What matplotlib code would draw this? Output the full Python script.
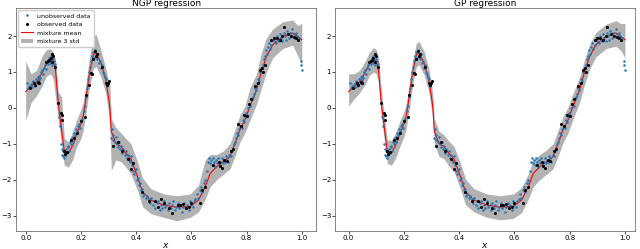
import matplotlib
matplotlib.use("Agg")
import matplotlib.pyplot as plt

# mixture mean (shared by both models)
mean_x = [0.0, 0.02, 0.04, 0.06, 0.075, 0.09, 0.10, 0.108, 0.118, 0.13, 0.14, 0.155, 0.17, 0.184,
          0.20, 0.208, 0.22, 0.231, 0.245, 0.255, 0.273, 0.29, 0.30, 0.305, 0.31, 0.327, 0.345,
          0.363, 0.381, 0.405, 0.423, 0.453, 0.50, 0.548, 0.596, 0.626, 0.65, 0.668, 0.692, 0.716,
          0.74, 0.758, 0.776, 0.794, 0.812, 0.836, 0.854, 0.872, 0.895, 0.931, 0.967, 0.985, 1.0]
mean_y = [0.45, 0.60, 0.73, 0.98, 1.22, 1.34, 1.29, 1.06, 0.14, -0.60, -1.22, -1.26, -1.05, -0.75,
          -0.45, -0.24, 0.35, 0.97, 1.48, 1.53, 1.25, 0.78, 0.30, 0.0, -0.65, -0.99, -1.08,
          -1.27, -1.42, -1.92, -2.34, -2.57, -2.71, -2.77, -2.74, -2.57, -2.20, -1.83, -1.64, -1.50,
          -1.36, -0.99, -0.61, -0.34, 0.04, 0.50, 1.01, 1.43, 1.76, 1.99, 2.09, 1.99, 1.90]

# NGP 3 std band
ngp_upper = [1.30, 0.95, 1.05, 1.45, 1.62, 1.65, 1.55, 1.35, 0.45, 0.30, -0.85, -0.95, -0.65, -0.35,
             -0.05, 0.15, 0.75, 1.40, 2.00, 2.05, 1.60, 1.10, 0.75, 0.65, -0.30, -0.55, -0.70,
             -0.85, -1.00, -1.50, -1.95, -2.25, -2.40, -2.45, -2.40, -2.15, -1.45, -1.30, -1.30, -1.20,
             -1.00, -0.60, -0.20, 0.05, 0.55, 0.95, 1.55, 1.95, 2.20, 2.40, 2.45, 2.30, 2.35]
ngp_lower = [-0.35, 0.15, 0.35, 0.62, 0.88, 0.95, 0.80, 0.30, -0.35, -1.00, -1.60, -1.65, -1.45, -1.10,
             -0.85, -0.65, -0.05, 0.55, 1.10, 1.15, 0.85, 0.40, -0.15, -0.50, -1.75, -1.45, -1.50,
             -1.65, -1.85, -2.30, -2.75, -2.95, -3.05, -3.15, -3.05, -2.90, -2.55, -2.20, -2.00, -1.85,
             -1.70, -1.35, -0.95, -0.70, -0.35, 0.10, 0.55, 1.00, 1.40, 1.65, 1.75, 1.45, 1.20]

# GP 3 std band
gp_upper = [0.95, 0.95, 1.05, 1.30, 1.55, 1.68, 1.62, 1.40, 0.50, -0.25, -0.90, -0.90, -0.70, -0.40,
            -0.10, 0.10, 0.70, 1.30, 1.80, 1.85, 1.58, 1.10, 0.65, 0.35, -0.30, -0.65, -0.75,
            -0.93, -1.07, -1.55, -1.98, -2.25, -2.40, -2.45, -2.40, -2.22, -1.85, -1.45, -1.30, -1.17,
            -1.00, -0.63, -0.25, 0.02, 0.40, 0.85, 1.35, 1.77, 2.10, 2.33, 2.43, 2.35, 2.35]
gp_lower = [0.05, 0.25, 0.42, 0.65, 0.90, 1.00, 0.95, 0.72, -0.20, -0.95, -1.55, -1.60, -1.40, -1.10,
            -0.80, -0.60, 0.00, 0.62, 1.15, 1.20, 0.92, 0.45, -0.05, -0.35, -1.00, -1.35, -1.42,
            -1.62, -1.77, -2.27, -2.70, -2.90, -3.05, -3.12, -3.08, -2.92, -2.55, -2.20, -2.00, -1.85,
            -1.70, -1.35, -0.97, -0.70, -0.32, 0.15, 0.65, 1.08, 1.42, 1.65, 1.72, 1.60, 1.40]

# observed data
obs_x = [0.015, 0.03, 0.035, 0.045, 0.05, 0.075, 0.08, 0.085, 0.09, 0.095, 0.1, 0.097, 0.105,
         0.118, 0.127, 0.13, 0.133, 0.138, 0.142, 0.15, 0.165, 0.175, 0.185, 0.2,
         0.215, 0.22, 0.23, 0.235, 0.24, 0.245, 0.25, 0.255, 0.26, 0.275, 0.29, 0.295, 0.3, 0.298,
         0.315, 0.335, 0.35, 0.37, 0.38, 0.39, 0.42, 0.445, 0.47, 0.48, 0.49, 0.5, 0.52, 0.53,
         0.55, 0.56, 0.57, 0.58, 0.59, 0.6, 0.63, 0.64, 0.65, 0.68, 0.7, 0.705, 0.71, 0.72, 0.73,
         0.745, 0.75, 0.77, 0.78, 0.79, 0.8, 0.81, 0.815, 0.83, 0.84, 0.85, 0.855, 0.86, 0.865,
         0.89, 0.9, 0.91, 0.92, 0.93, 0.935, 0.95, 0.96, 0.97, 0.98, 0.985]
obs_y = [0.55, 0.70, 0.65, 0.72, 0.68, 1.28, 1.30, 1.32, 1.38, 1.28, 1.45, 1.50, 1.15,
         0.13, -0.15, -0.20, -0.35, -1.20, -1.28, -1.22, -0.90, -0.85, -0.70, -0.38,
         -0.25, 0.35, 0.65, 0.98, 0.95, 1.35, 1.58, 1.45, 1.50, 1.15, 0.70, 0.65, 0.75, 0.68,
         -1.07, -0.95, -1.20, -1.42, -1.70, -1.55, -2.35, -2.60, -2.60, -2.75, -2.55, -2.65, -2.78, -2.92,
         -2.72, -2.70, -2.68, -2.80, -2.75, -2.65, -2.65, -2.30, -2.20, -1.60, -1.50, -1.62, -1.68, -1.45, -1.47,
         -1.20, -1.15, -0.45, -0.50, -0.20, -0.22, 0.10, 0.25, 0.60, 0.70, 1.05, 1.10, 1.00, 1.20,
         1.90, 1.95, 1.95, 1.90, 2.00, 2.25, 2.05, 2.00, 1.97, 1.95, 1.90]

# unobserved data
unobs_x = [0.005, 0.01, 0.012, 0.018, 0.022, 0.025, 0.028, 0.032, 0.036, 0.04, 0.043, 0.047, 0.05,
           0.053, 0.057, 0.06, 0.063, 0.066, 0.07, 0.073, 0.077, 0.08, 0.084, 0.087, 0.09, 0.093,
           0.097, 0.1, 0.103, 0.106,
           0.12, 0.125, 0.128, 0.13, 0.132, 0.135, 0.137, 0.14, 0.143, 0.146, 0.149, 0.152, 0.155,
           0.158, 0.161, 0.164, 0.167, 0.17, 0.173, 0.176, 0.18, 0.183, 0.186, 0.19, 0.193, 0.196,
           0.2, 0.203,
           0.212, 0.215, 0.218, 0.222, 0.226, 0.23, 0.233, 0.237, 0.24, 0.243, 0.247, 0.25, 0.253,
           0.257, 0.26, 0.263, 0.266, 0.27, 0.273, 0.276, 0.28, 0.283, 0.286, 0.29, 0.293, 0.296,
           0.31, 0.312, 0.315, 0.318, 0.322, 0.326, 0.33, 0.334, 0.338, 0.342, 0.346, 0.35, 0.354,
           0.358, 0.362, 0.366, 0.37, 0.374, 0.378, 0.382, 0.386, 0.39, 0.394, 0.398, 0.402, 0.406,
           0.41, 0.414, 0.418, 0.422, 0.426, 0.43, 0.435, 0.44, 0.445,
           0.45, 0.455, 0.46, 0.465, 0.47, 0.475, 0.48, 0.485, 0.49, 0.495, 0.5, 0.505, 0.51, 0.515,
           0.52, 0.525, 0.53, 0.535, 0.54, 0.545, 0.55, 0.555, 0.56, 0.565, 0.57, 0.575, 0.58, 0.585,
           0.59, 0.595, 0.6, 0.605, 0.61, 0.615, 0.62, 0.625,
           0.63, 0.635, 0.64, 0.645, 0.65, 0.655, 0.66, 0.663, 0.667, 0.67, 0.674, 0.678, 0.682,
           0.686, 0.69, 0.694, 0.698, 0.702, 0.706, 0.71, 0.714, 0.718, 0.722, 0.726, 0.73, 0.734,
           0.738, 0.742, 0.746, 0.75, 0.754, 0.758,
           0.762, 0.766, 0.77, 0.774, 0.778, 0.782, 0.786, 0.79, 0.794, 0.798, 0.802, 0.806, 0.81,
           0.814, 0.818, 0.822, 0.826, 0.83, 0.834, 0.838, 0.842, 0.846, 0.85, 0.854, 0.858, 0.862,
           0.866, 0.87, 0.874, 0.878, 0.882, 0.886, 0.89, 0.894, 0.898, 0.902, 0.906, 0.91, 0.914,
           0.918, 0.922, 0.926, 0.93, 0.934, 0.938, 0.942, 0.946, 0.95, 0.954, 0.958, 0.962, 0.966,
           0.97, 0.974, 0.978, 0.982, 0.986, 0.99, 0.997, 0.998, 1.0]
unobs_y = [0.70, 0.55, 0.62, 0.66, 0.58, 0.72, 0.75, 0.62, 0.80, 0.68, 0.85, 0.78, 0.90,
           0.82, 1.00, 1.05, 0.95, 1.12, 1.20, 1.08, 1.30, 1.22, 1.40, 1.25, 1.45, 1.30,
           1.20, 1.35, 1.30, 1.22,
           -0.25, -0.50, -1.00, -1.30, -1.15, -1.35, -1.20, -1.40, -1.30, -1.15, -1.25, -1.05, -1.10,
           -1.20, -0.95, -1.00, -0.85, -0.80, -0.95, -0.70, -0.75, -0.60, -0.65, -0.50, -0.45, -0.55,
           -0.35, -0.30,
           -0.10, 0.05, 0.30, 0.55, 0.80, 1.00, 1.15, 1.30, 1.45, 1.55, 1.40, 1.60, 1.45,
           1.40, 1.35, 1.50, 1.25, 1.30, 1.10, 1.20, 1.00, 0.95, 0.85, 0.80, 0.60, 0.70,
           -0.85, -0.60, -0.90, -0.75, -0.95, -0.80, -1.00, -1.10, -0.95, -1.15, -1.05, -1.25, -1.15,
           -1.30, -1.20, -1.40, -1.30, -1.45, -1.50, -1.35, -1.60, -1.75, -1.85, -1.70, -2.00, -1.95,
           -2.15, -2.10, -2.30, -2.25, -2.45, -2.40, -2.50, -2.45, -2.55,
           -2.65, -2.50, -2.70, -2.60, -2.80, -2.65, -2.60, -2.85, -2.70, -2.80, -2.60, -2.75, -2.70, -2.85,
           -2.65, -2.80, -2.70, -2.60, -2.85, -2.75, -2.65, -2.80, -2.70, -2.90, -2.75, -2.65, -2.80, -2.70,
           -2.85, -2.60, -2.70, -2.75, -2.60, -2.55, -2.40, -2.50,
           -2.30, -2.20, -2.35, -2.10, -2.00, -1.75, -1.50, -1.40, -1.55, -1.45, -1.60, -1.40, -1.50,
           -1.65, -1.45, -1.55, -1.40, -1.60, -1.50, -1.40, -1.55, -1.45, -1.50, -1.35, -1.40, -1.50,
           -1.30, -1.35, -1.20, -1.15, -1.00, -0.95,
           -0.85, -0.70, -0.75, -0.60, -0.50, -0.55, -0.35, -0.40, -0.25, -0.15, -0.20, 0.00, 0.10,
           0.05, 0.25, 0.30, 0.40, 0.55, 0.50, 0.70, 0.80, 0.75, 1.00, 1.10, 1.20, 1.35,
           1.45, 1.60, 1.50, 1.70, 1.80, 1.65, 1.75, 1.90, 1.85, 1.95, 1.80, 2.00, 1.90,
           1.85, 2.05, 1.95, 1.85, 2.10, 2.00, 1.90, 2.15, 2.05, 1.95, 2.10, 2.00, 2.20,
           2.05, 1.95, 2.10, 2.00, 1.90, 1.95, 1.30, 1.20, 1.05]

plt.rcParams["font.family"] = ["DejaVu Sans"]
plt.rcParams["font.size"] = 5.5

fig = plt.figure(figsize=(6.4, 2.49), dpi=100)
ax1 = fig.add_axes([0.025, 0.074, 0.469, 0.892])
ax2 = fig.add_axes([0.524, 0.074, 0.468, 0.892])

panels = [
    (ax1, "NGP regression", ngp_upper, ngp_lower, (-0.035, 1.052)),
    (ax2, "GP regression", gp_upper, gp_lower, (-0.048, 1.036)),
]

for ax, title, upper, lower, xlim in panels:
    ax.fill_between(mean_x, lower, upper, color="gray", alpha=0.6, linewidth=0,
                    label="mixture 3 std")
    ax.plot(mean_x, mean_y, color="red", linewidth=0.8, label="mixture mean")
    ax.plot(unobs_x, unobs_y, "o", color="#1f77b4", markersize=1.8, markeredgewidth=0,
            label="unobserved data")
    ax.plot(obs_x, obs_y, "o", color="black", markersize=2.2, markeredgewidth=0,
            label="observed data")
    ax.set_xlim(*xlim)
    ax.set_ylim(-3.42, 2.77)
    ax.set_xticks([0.0, 0.2, 0.4, 0.6, 0.8, 1.0])
    ax.set_yticks([-3, -2, -1, 0, 1, 2])
    ax.set_title(title, fontsize=6.5, pad=2)
    ax.set_xlabel("$x$", fontsize=6.5, labelpad=0)
    ax.tick_params(length=2, width=0.5, pad=1.0, labelsize=5.0)
    for sp in ax.spines.values():
        sp.set_linewidth(0.5)
        sp.set_color("#555555")

h, l = ax1.get_legend_handles_labels()
order = [l.index("unobserved data"), l.index("observed data"),
         l.index("mixture mean"), l.index("mixture 3 std")]
ax1.legend([h[i] for i in order], [l[i] for i in order], loc="upper left", fontsize=4.5,
           handlelength=1.9, borderpad=0.5, labelspacing=0.5, handletextpad=0.7,
           borderaxespad=0.25, markerscale=1.0, framealpha=1.0, edgecolor="#cccccc")

fig.savefig("out.png", dpi=100)
